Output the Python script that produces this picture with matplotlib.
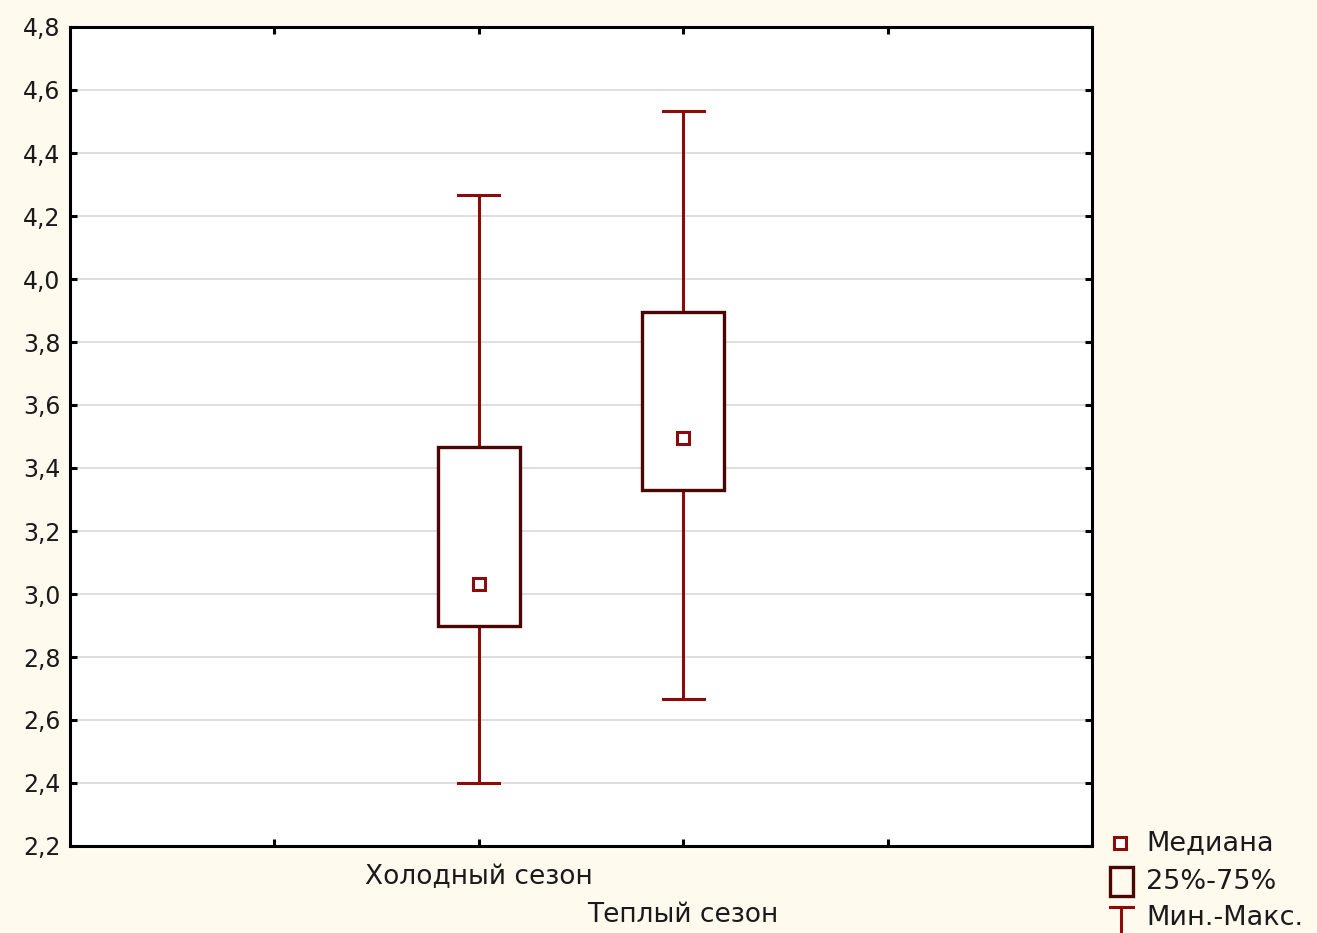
import matplotlib.pyplot as plt
from matplotlib.lines import Line2D
from matplotlib.patches import Rectangle
from matplotlib.ticker import FuncFormatter

# seasonal summary: min / q25 / median / q75 / max
seasons = ["Холодный сезон", "Теплый сезон"]
positions = [2, 3]
mins = [2.40, 2.667]
q25 = [2.898, 3.330]
medians = [3.032, 3.495]
q75 = [3.467, 3.895]
maxs = [4.267, 4.533]

legend_labels = ["Медиана", "25%-75%", "Мин.-Макс."]

BG = "#fff9ee"
WHISK = "#8b0a0a"
BOX = "#4a0505"
TXT = "#1a1a1a"

fig = plt.figure(figsize=(13.17, 9.33), dpi=100, facecolor=BG)
ax = fig.add_axes([70 / 1317, 87 / 933, 1022 / 1317, 819 / 933])
ax.set_facecolor("white")

ax.set_xlim(0, 5)
ax.set_ylim(2.2, 4.8)
ax.set_yticks([2.2 + 0.2 * i for i in range(14)])
ax.yaxis.set_major_formatter(FuncFormatter(lambda v, p: f"{v:.1f}".replace(".", ",")))
ax.set_xticks([1, 2, 3, 4])
ax.set_xticklabels([])
ax.grid(axis="y", color="#dcdcdc", lw=1.3)
ax.set_axisbelow(True)

for s in ax.spines.values():
    s.set_linewidth(2.2)
    s.set_color("black")
ax.tick_params(axis="both", direction="in", length=5, width=2.2,
               top=True, right=True, colors="black")
ax.tick_params(axis="y", labelsize=17, pad=7, labelcolor=TXT)

box_w = 0.4
cap_w = 0.2
for x, lo, a, m, b, hi in zip(positions, mins, q25, medians, q75, maxs):
    ax.plot([x, x], [lo, a], color=WHISK, lw=2.2, zorder=2)
    ax.plot([x, x], [b, hi], color=WHISK, lw=2.2, zorder=2)
    ax.plot([x - cap_w / 2, x + cap_w / 2], [lo, lo], color=WHISK, lw=2.2, zorder=2)
    ax.plot([x - cap_w / 2, x + cap_w / 2], [hi, hi], color=WHISK, lw=2.2, zorder=2)
    ax.add_patch(Rectangle((x - box_w / 2, a), box_w, b - a, facecolor="white",
                           edgecolor=BOX, lw=2.4, zorder=3))
    ax.plot(x, m, marker="s", ms=8, mfc="white", mec=WHISK, mew=2.2, zorder=4)

# staggered category labels under the axis
xform = ax.get_xaxis_transform()
for i, (x, name) in enumerate(zip(positions, seasons)):
    ax.text(x, -0.038 - 0.046 * i, name, transform=xform, ha="center", va="center",
            fontsize=19, color=TXT)

# legend drawn in figure pixels
def fx(px):
    return px / 1317

def fy(py):
    return 1 - py / 933

fig.add_artist(Line2D([fx(1120)], [fy(843)], marker="s", ms=8, mfc="white",
                      mec=WHISK, mew=2.2, transform=fig.transFigure))
fig.add_artist(Rectangle((fx(1110), fy(896)), 23 / 1317, 29 / 933, facecolor="none",
                         edgecolor=BOX, lw=2.4, transform=fig.transFigure))
fig.add_artist(Line2D([fx(1110), fx(1133)], [fy(907), fy(907)], color=WHISK, lw=2.2,
                      transform=fig.transFigure))
fig.add_artist(Line2D([fx(1121), fx(1121)], [fy(907), fy(940)], color=WHISK, lw=2.2,
                      transform=fig.transFigure))
for py, txt in zip([843, 882, 918], legend_labels):
    fig.text(fx(1146), fy(py), txt, ha="left", va="center", fontsize=19.5, color=TXT)

fig.savefig("out.png", dpi=100, facecolor=BG)
